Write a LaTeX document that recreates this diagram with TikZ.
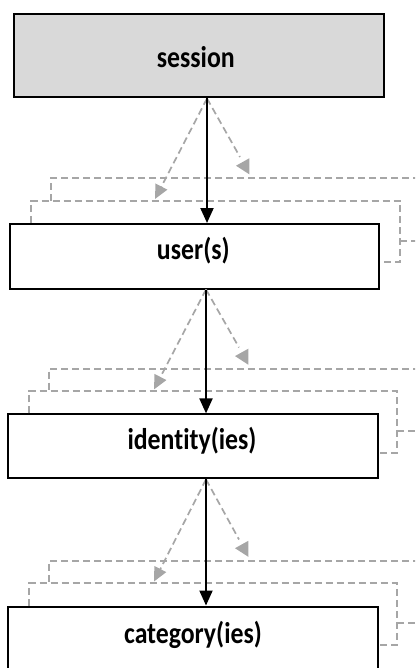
\documentclass[tikz,border=0pt]{standalone}
\usepackage{fontspec}
\setmainfont{Carlito}[FakeStretch=0.86,Ligatures=NoCommon]
\usetikzlibrary{arrows.meta}
\definecolor{boxgray}{HTML}{D9D9D9}
\definecolor{dashgray}{HTML}{A6A6A6}
\tikzset{
  box/.style={draw=black,line width=2pt,rectangle,inner sep=0pt},
  lbl/.style={font=\fontsize{30}{34}\selectfont\bfseries,inner sep=0pt,anchor=base},
  blk/.style={draw=black,line width=2pt,-{Triangle[length=15pt,width=13pt]}},
  gry/.style={draw=dashgray,line width=1.7pt,dash pattern=on 7pt off 4pt},
  gryhead/.style={-{Triangle[length=14pt,width=13pt]}},
}
\begin{document}
\begin{tikzpicture}[x=1pt,y=-1pt]
\useasboundingbox (0,0) rectangle (415,668);
\clip (0,0) rectangle (415,668);
% boxes
\node[box,fill=boxgray,minimum width=370.5pt,minimum height=83.5pt] (session) at (198.75,55.75) {};
\node[box,fill=white,minimum width=369pt,minimum height=64.5pt] (user) at (194.5,256.25) {};
\node[box,fill=white,minimum width=370pt,minimum height=64pt] (identity) at (193,446.4) {};
\node[box,fill=white,minimum width=370pt,minimum height=64pt] (category) at (193,638.5) {};
% labels
\node[lbl] (sessiont) at (195.8,67.3) {session};
\node[lbl] (usert) at (193.3,259) {user(s)};
\node[lbl] (identityt) at (192,449.5) {identity(ies)};
\node[lbl] (categoryt) at (193,643) {category(ies)};
% connectors
\foreach \up/\lo/\ax/\xla/\xlb/\xr in {session/user/207/51/31/400, user/identity/206/49/29/397, identity/category/206/49/29/397}{
  \coordinate (ax) at (\ax,0);
  \coordinate (xa) at (\xla,0);
  \coordinate (xb) at (\xlb,0);
  \coordinate (xc) at (\xr,0);
  \coordinate (xe) at (420,0);
  \coordinate (T) at (\lo.north -| ax);
  \coordinate (B) at (\up.south -| ax);
  \coordinate (y1) at ([yshift=44.7pt]T);
  \coordinate (y2) at ([yshift=22.3pt]T);
  \coordinate (y3) at ([yshift=-39.3pt]T);
  \coordinate (y4) at ([yshift=-17.7pt]T);
  \coordinate (lt) at ([xshift=-52pt,yshift=24pt]T);
  \coordinate (rt) at ([xshift=33pt,yshift=66pt]T);
  % dashed brackets
  \draw[gry] (y1 -| xe) -- (y1 -| xa) -- (y2 -| xa);
  \draw[gry] (\lo.north -| xb) -- (y2 -| xb) -- (y2 -| xc) -- (y3 -| xc) -- (\lo.east |- y3);
  \draw[gry] (y4 -| xc) -- (y4 -| xe);
  % dashed arrows
  \draw[gry,gryhead] (B) -- (lt);
  \draw[gry] (B) -- (rt);
  \fill[dashgray] ([xshift=29pt,yshift=57.3pt]T) -- ([xshift=42.3pt,yshift=64.7pt]T) -- ([xshift=42.3pt,yshift=48.7pt]T) -- cycle;
  % main arrow
  \draw[blk] (B) -- (T);
}
\end{tikzpicture}
\end{document}
